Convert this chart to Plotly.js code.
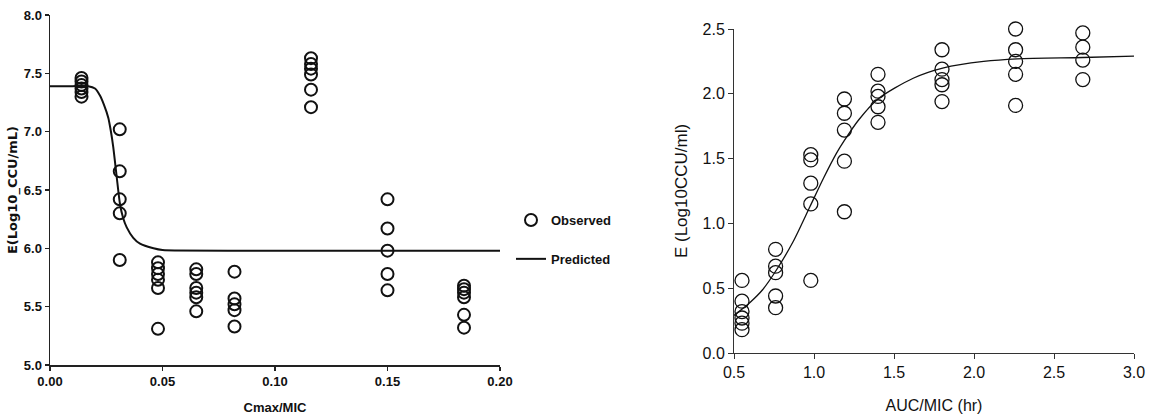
<!DOCTYPE html>
<html>
<head>
<meta charset="utf-8">
<script src="https://cdn.plot.ly/plotly-3.0.1.min.js"></script>
<style>html,body{margin:0;padding:0;background:#fff;}#chart{width:1151px;height:418px;}</style>
</head>
<body>
<div id="chart"></div>
<script>
// ---- Left panel: Cmax/MIC ----
const leftDoses = [0.014, 0.031, 0.048, 0.065, 0.082, 0.116, 0.150, 0.184];
const leftObs = [
  [7.46, 7.43, 7.40, 7.37, 7.34, 7.30],
  [7.02, 6.66, 6.42, 6.30, 5.90],
  [5.88, 5.83, 5.78, 5.73, 5.66, 5.31],
  [5.82, 5.78, 5.66, 5.62, 5.58, 5.46],
  [5.80, 5.57, 5.52, 5.47, 5.33],
  [7.63, 7.58, 7.54, 7.49, 7.36, 7.21],
  [6.42, 6.17, 5.98, 5.78, 5.64],
  [5.68, 5.65, 5.62, 5.58, 5.43, 5.32]
];
const leftPredX = [0, 0.010, 0.017, 0.020, 0.0222, 0.024, 0.0259, 0.027, 0.0281, 0.0296, 0.0311, 0.0325, 0.0341, 0.037, 0.040, 0.046, 0.050, 0.100, 0.150, 0.200];
const leftPredY = [7.39, 7.39, 7.39, 7.37, 7.31, 7.23, 7.12, 7.01, 6.87, 6.62, 6.38, 6.26, 6.18, 6.09, 6.04, 6.00, 5.985, 5.98, 5.98, 5.98];
const leftXTicks = [0, 0.05, 0.10, 0.15, 0.20];
const leftYTicks = [5.0, 5.5, 6.0, 6.5, 7.0, 7.5, 8.0];

// ---- Right panel: AUC/MIC ----
const rightDoses = [0.55, 0.76, 0.98, 1.19, 1.40, 1.80, 2.26, 2.68];
const rightObs = [
  [0.56, 0.40, 0.32, 0.27, 0.23, 0.18],
  [0.80, 0.67, 0.62, 0.44, 0.35],
  [1.53, 1.49, 1.31, 1.15, 0.56],
  [1.96, 1.85, 1.72, 1.48, 1.09],
  [2.15, 2.02, 1.98, 1.90, 1.78],
  [2.34, 2.19, 2.11, 2.07, 1.94],
  [2.50, 2.34, 2.25, 2.15, 1.91],
  [2.51, 2.47, 2.36, 2.26, 2.11]
];
const rightPredX = [0.50, 0.60, 0.68, 0.77, 0.87, 0.975, 1.06, 1.14, 1.19, 1.28, 1.40, 1.62, 1.81, 2.06, 2.27, 2.68, 3.00];
const rightPredY = [0.29, 0.39, 0.49, 0.65, 0.86, 1.13, 1.35, 1.54, 1.64, 1.80, 1.96, 2.12, 2.20, 2.25, 2.27, 2.28, 2.29];
const rightXTicks = [0.5, 1.0, 1.5, 2.0, 2.5, 3.0];
const rightYTicks = [0.0, 0.5, 1.0, 1.5, 2.0, 2.5];

function flatten(doses, groups) {
  const xs = [], ys = [];
  groups.forEach((g, i) => g.forEach(v => { xs.push(doses[i]); ys.push(v); }));
  return {xs, ys};
}
const L = flatten(leftDoses, leftObs);
const R = flatten(rightDoses, rightObs);

const FONT = 'Liberation Sans, Arial, sans-serif';

const traces = [
  {x: L.xs, y: L.ys, type: 'scatter', mode: 'markers', name: 'Observed', legendgroup: 'a',
   xaxis: 'x', yaxis: 'y', cliponaxis: false,
   marker: {symbol: 'circle-open', size: 12, color: '#111', line: {width: 2, color: '#111'}}},
  {x: leftPredX, y: leftPredY, type: 'scatter', mode: 'lines', name: 'Predicted', legendgroup: 'b',
   xaxis: 'x', yaxis: 'y', line: {color: '#111', width: 2, shape: 'spline', smoothing: 0.6}},
  {x: R.xs, y: R.ys, type: 'scatter', mode: 'markers', showlegend: false,
   xaxis: 'x2', yaxis: 'y2', cliponaxis: false,
   marker: {symbol: 'circle-open', size: 14, color: '#111', line: {width: 1.3, color: '#111'}}},
  {x: rightPredX, y: rightPredY, type: 'scatter', mode: 'lines', showlegend: false,
   xaxis: 'x2', yaxis: 'y2', line: {color: '#111', width: 1.3, shape: 'spline', smoothing: 0.8}}
];

const W = 1151, H = 418;
const layout = {
  width: W, height: H,
  margin: {l: 0, r: 0, t: 0, b: 0},
  paper_bgcolor: '#fff', plot_bgcolor: 'rgba(0,0,0,0)',
  font: {family: FONT, color: '#111'},
  showlegend: true,
  legend: {x: 511 / W, y: 1 - 205 / H, xanchor: 'left', yanchor: 'top',
           font: {family: FONT, size: 13, color: '#111', weight: 'bold'},
           tracegroupgap: 19, bgcolor: 'rgba(0,0,0,0)'},
  xaxis: {domain: [50 / W, 500 / W], anchor: 'y', range: [0, 0.20],
          tickvals: leftXTicks, tickformat: '.2f',
          showline: true, linecolor: '#222', linewidth: 1.5, ticks: 'outside', ticklen: 4, tickwidth: 1.5, tickcolor: '#222',
          showgrid: false, zeroline: false,
          tickfont: {family: FONT, size: 13, weight: 'bold', color: '#111'},
          title: {text: 'Cmax/MIC', font: {family: FONT, size: 13, weight: 'bold', color: '#111'}, standoff: 15}},
  yaxis: {domain: [(H - 365) / H, (H - 15) / H], anchor: 'x', range: [5.0, 8.0],
          tickvals: leftYTicks, tickformat: '.1f',
          showline: true, linecolor: '#222', linewidth: 1.5, ticks: 'outside', ticklen: 4, tickwidth: 1.5, tickcolor: '#222',
          showgrid: false, zeroline: false,
          tickfont: {family: FONT, size: 13, weight: 'bold', color: '#111'},
          title: {text: 'E(Log10_CCU/mL)', font: {family: 'DejaVu Sans, sans-serif', size: 13, weight: 'bold', color: '#111'}, standoff: 3}},
  xaxis2: {domain: [734 / W, 1134 / W], anchor: 'y2', range: [0.5, 3.0],
           tickvals: rightXTicks, tickformat: '.1f',
           showline: true, linecolor: '#333', linewidth: 1, ticks: 'outside', ticklen: 5, tickwidth: 1, tickcolor: '#333',
           showgrid: false, zeroline: false,
           tickfont: {family: FONT, size: 16, color: '#111'},
           title: {text: 'AUC/MIC (hr)', font: {family: FONT, size: 16, color: '#111'}, standoff: 19}},
  yaxis2: {domain: [(H - 353) / H, (H - 29) / H], anchor: 'x2', range: [0, 2.5],
           tickvals: rightYTicks, tickformat: '.1f',
           showline: true, linecolor: '#333', linewidth: 1, ticks: 'outside', ticklen: 5, tickwidth: 1, tickcolor: '#333',
           showgrid: false, zeroline: false,
           tickfont: {family: FONT, size: 16, color: '#111'},
           title: {text: 'E (Log10CCU/ml)', font: {family: FONT, size: 17, color: '#111'}, standoff: 10}}
};

Plotly.newPlot('chart', traces, layout, {displayModeBar: false, staticPlot: true});
</script>
</body>
</html>
